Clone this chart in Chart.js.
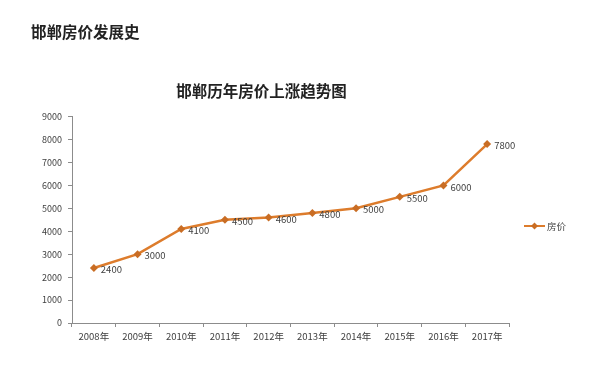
<!DOCTYPE html>
<html>
<head>
<meta charset="utf-8">
<script src="https://cdn.jsdelivr.net/npm/chart.js@4/dist/chart.umd.min.js"></script>
<style>
  html, body { margin: 0; padding: 0; background: #fff; }
  .page { position: relative; width: 612px; height: 373px; overflow: hidden; }
  .heading {
    position: absolute; left: 31px; top: 20px;
    font: bold 15.5px "Noto Sans CJK SC", sans-serif; color: #222;
  }
  #priceChart { position: absolute; left: 0; top: 0; }
</style>
</head>
<body>
<div class="page">
  <canvas id="priceChart" width="612" height="373"></canvas>
  <div class="heading">邯郸房价发展史</div>
</div>
<script>
const years = ['2008年', '2009年', '2010年', '2011年', '2012年', '2013年', '2014年', '2015年', '2016年', '2017年'];
const prices = [2400, 3000, 4100, 4500, 4600, 4800, 5000, 5500, 6000, 7800];
const seriesName = '房价';
const chartTitle = '邯郸历年房价上涨趋势图';

const LINE = '#dd7c2c';
const MARKER = '#c96d24';
const TEXT = '#404040';
const AXIS = '#8c8c8c';
const FONT = '"Noto Sans CJK SC", "DejaVu Sans", sans-serif';

// value labels to the right of each point
const pointLabels = {
  id: 'pointLabels',
  afterDatasetsDraw(chart) {
    const { ctx } = chart;
    const meta = chart.getDatasetMeta(0);
    ctx.save();
    ctx.font = '9.5px ' + FONT;
    ctx.fillStyle = TEXT;
    ctx.textAlign = 'left';
    ctx.textBaseline = 'middle';
    meta.data.forEach((pt, i) => {
      ctx.fillText(String(prices[i]), pt.x + 7, pt.y + 1.5);
    });
    ctx.restore();
  },
};

// legend on the right: line with diamond, then the series name
const sideLegend = {
  id: 'sideLegend',
  afterDraw(chart) {
    const { ctx } = chart;
    const x = 524;
    const y = 226;
    ctx.save();
    ctx.strokeStyle = LINE;
    ctx.lineWidth = 2;
    ctx.beginPath();
    ctx.moveTo(x, y);
    ctx.lineTo(x + 21, y);
    ctx.stroke();
    ctx.fillStyle = MARKER;
    ctx.beginPath();
    ctx.moveTo(x + 10.5, y - 3.5);
    ctx.lineTo(x + 14, y);
    ctx.lineTo(x + 10.5, y + 3.5);
    ctx.lineTo(x + 7, y);
    ctx.closePath();
    ctx.fill();
    ctx.font = '9.5px ' + FONT;
    ctx.fillStyle = TEXT;
    ctx.textBaseline = 'middle';
    ctx.fillText(seriesName, x + 23, y);
    ctx.restore();
  },
};

new Chart(document.getElementById('priceChart'), {
  type: 'line',
  data: {
    labels: years,
    datasets: [
      {
        label: seriesName,
        data: prices,
        borderColor: LINE,
        borderWidth: 2.5,
        backgroundColor: MARKER,
        pointStyle: 'rectRot',
        pointRadius: 4,
        pointBorderWidth: 0,
        pointBackgroundColor: MARKER,
        tension: 0,
      },
    ],
  },
  options: {
    responsive: false,
    animation: false,
    layout: {
      padding: { left: 14, right: 103, top: 0, bottom: 0 },
    },
    plugins: {
      legend: { display: false },
      tooltip: { enabled: false },
      title: {
        display: true,
        text: chartTitle,
        color: '#222',
        font: { family: FONT, size: 15.5, weight: '600' },
        padding: { top: 82, bottom: 16 },
      },
    },
    scales: {
      x: {
        offset: true,
        grid: {
          display: true,
          offset: true,
          drawOnChartArea: false,
          drawTicks: true,
          tickLength: 4,
          color: AXIS,
        },
        border: { color: AXIS, width: 1 },
        ticks: {
          color: TEXT,
          font: { family: FONT, size: 9.5 },
          maxRotation: 0,
          padding: 4,
        },
        afterFit(scale) {
          scale.height = 50;
        },
      },
      y: {
        min: 0,
        max: 9000,
        grid: {
          display: true,
          drawOnChartArea: false,
          drawTicks: true,
          tickLength: 4,
          color: AXIS,
        },
        border: { color: AXIS, width: 1 },
        ticks: {
          stepSize: 1000,
          color: TEXT,
          font: { family: FONT, size: 9 },
          padding: 6,
          callback(value) {
            return String(value);
          },
        },
        afterFit(scale) {
          scale.width = 58;
        },
      },
    },
  },
  plugins: [pointLabels, sideLegend],
});
</script>
</body>
</html>
